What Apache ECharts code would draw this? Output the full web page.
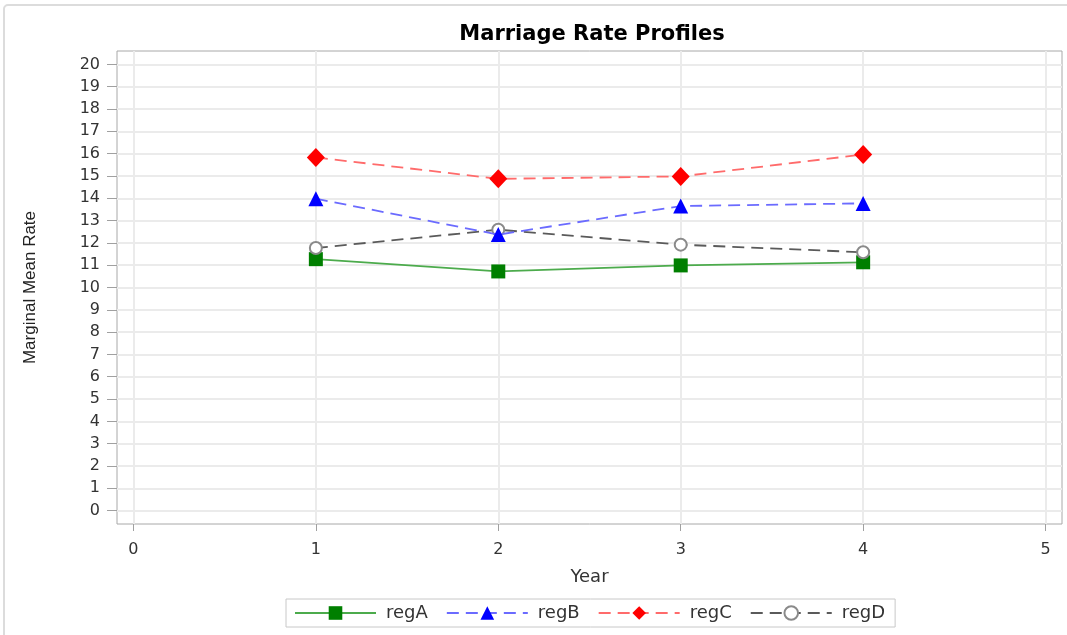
<!DOCTYPE html>
<html>
<head>
<meta charset="utf-8">
<script src="https://cdn.jsdelivr.net/npm/echarts@6/dist/echarts.min.js"></script>
<style>
  html, body { margin: 0; padding: 0; background: #ffffff; }
  #chart { width: 1067px; height: 635px; }
</style>
</head>
<body>
<div id="chart"></div>
<script>
// ---- data ----
var years = [1, 2, 3, 4];
var regA = [11.27, 10.72, 10.99, 11.13];
var regB = [13.98, 12.37, 13.65, 13.77];
var regC = [15.83, 14.87, 14.98, 15.96];
var regD = [11.77, 12.59, 11.92, 11.58];
var seriesNames = ['regA', 'regB', 'regC', 'regD'];
var xTicks = [0, 1, 2, 3, 4, 5];
var yTicks = [0, 1, 2, 3, 4, 5, 6, 7, 8, 9, 10, 11, 12, 13, 14, 15, 16, 17, 18, 19, 20];

function pairs(vals) {
  return years.map(function (x, i) { return [x, vals[i]]; });
}

var chart = echarts.init(document.getElementById('chart'), null, { renderer: 'canvas' });
var labelFont = 'DejaVu Sans';

chart.setOption({
  backgroundColor: '#ffffff',
  animation: false,
  graphic: [{
    type: 'rect',
    shape: { x: 4, y: 5, width: 1100, height: 700, r: 4 },
    style: { fill: 'none', stroke: '#dcdcdc', lineWidth: 2 },
    z: -10
  }],
  title: {
    text: 'Marriage Rate Profiles',
    left: 587,
    textAlign: 'center',
    top: 19,
    textStyle: { fontFamily: labelFont, fontWeight: 'bold', fontSize: 21, color: '#000' }
  },
  grid: {
    left: 117, right: 5, top: 51, bottom: 111,
    show: true, borderColor: '#a8a8a8', borderWidth: 1, backgroundColor: 'transparent'
  },
  xAxis: {
    type: 'value',
    min: -0.09, max: 5.09,
    name: 'Year',
    nameLocation: 'middle',
    nameGap: 44,
    nameTextStyle: { fontFamily: labelFont, fontSize: 18, color: '#333' },
    axisLine: { show: false, onZero: false },
    axisTick: { show: true, length: 7, customValues: xTicks, lineStyle: { color: '#a0a0a0' } },
    axisLabel: { customValues: xTicks, margin: 18, fontFamily: labelFont, fontSize: 16, color: '#333' },
    splitLine: { show: true, lineStyle: { color: '#ebebeb', width: 2 } }
  },
  yAxis: {
    type: 'value',
    min: -0.6, max: 20.6,
    name: 'Marginal Mean Rate',
    nameLocation: 'middle',
    nameRotate: 90,
    nameGap: 78,
    nameTextStyle: { fontFamily: 'Liberation Sans', fontSize: 17, color: '#222' },
    axisLine: { show: false, onZero: false },
    axisTick: { show: true, length: 10, customValues: yTicks, lineStyle: { color: '#a0a0a0' } },
    axisLabel: { customValues: yTicks, margin: 17, fontFamily: labelFont, fontSize: 16, color: '#333' },
    splitLine: { show: true, lineStyle: { color: '#ebebeb', width: 2 } }
  },
  legend: {
    data: seriesNames,
    left: 286,
    top: 599,
    orient: 'horizontal',
    padding: [5, 10, 5, 8],
    itemWidth: 81,
    itemHeight: 17,
    itemGap: 18,
    borderColor: '#c8c8c8',
    borderWidth: 1,
    textStyle: { fontFamily: labelFont, fontSize: 18, color: '#333', padding: [0, 0, 0, 5] }
  },
  series: [
    {
      name: 'regA', type: 'line', data: pairs(regA),
      symbol: 'rect', symbolSize: 14,
      itemStyle: { color: '#007f00' },
      lineStyle: { color: '#4cab4c', width: 1.8, type: 'solid' },
      z: 2
    },
    {
      name: 'regB', type: 'line', data: pairs(regB),
      symbol: 'triangle', symbolSize: 15,
      itemStyle: { color: '#0000ff' },
      lineStyle: { color: '#6b6bff', width: 1.8, type: [12, 7] },
      z: 3
    },
    {
      name: 'regC', type: 'line', data: pairs(regC),
      symbol: 'diamond', symbolSize: [18, 19],
      itemStyle: { color: '#ff0000' },
      lineStyle: { color: '#ff6b6b', width: 1.8, type: [12, 7] },
      z: 3
    },
    {
      name: 'regD', type: 'line', data: pairs(regD),
      symbol: 'emptyCircle', symbolSize: 12,
      itemStyle: { color: '#8a8a8a', borderWidth: 1.5 },
      lineStyle: { color: '#5a5a5a', width: 1.8, type: [12, 7] },
      z: 2
    }
  ]
});
</script>
</body>
</html>
